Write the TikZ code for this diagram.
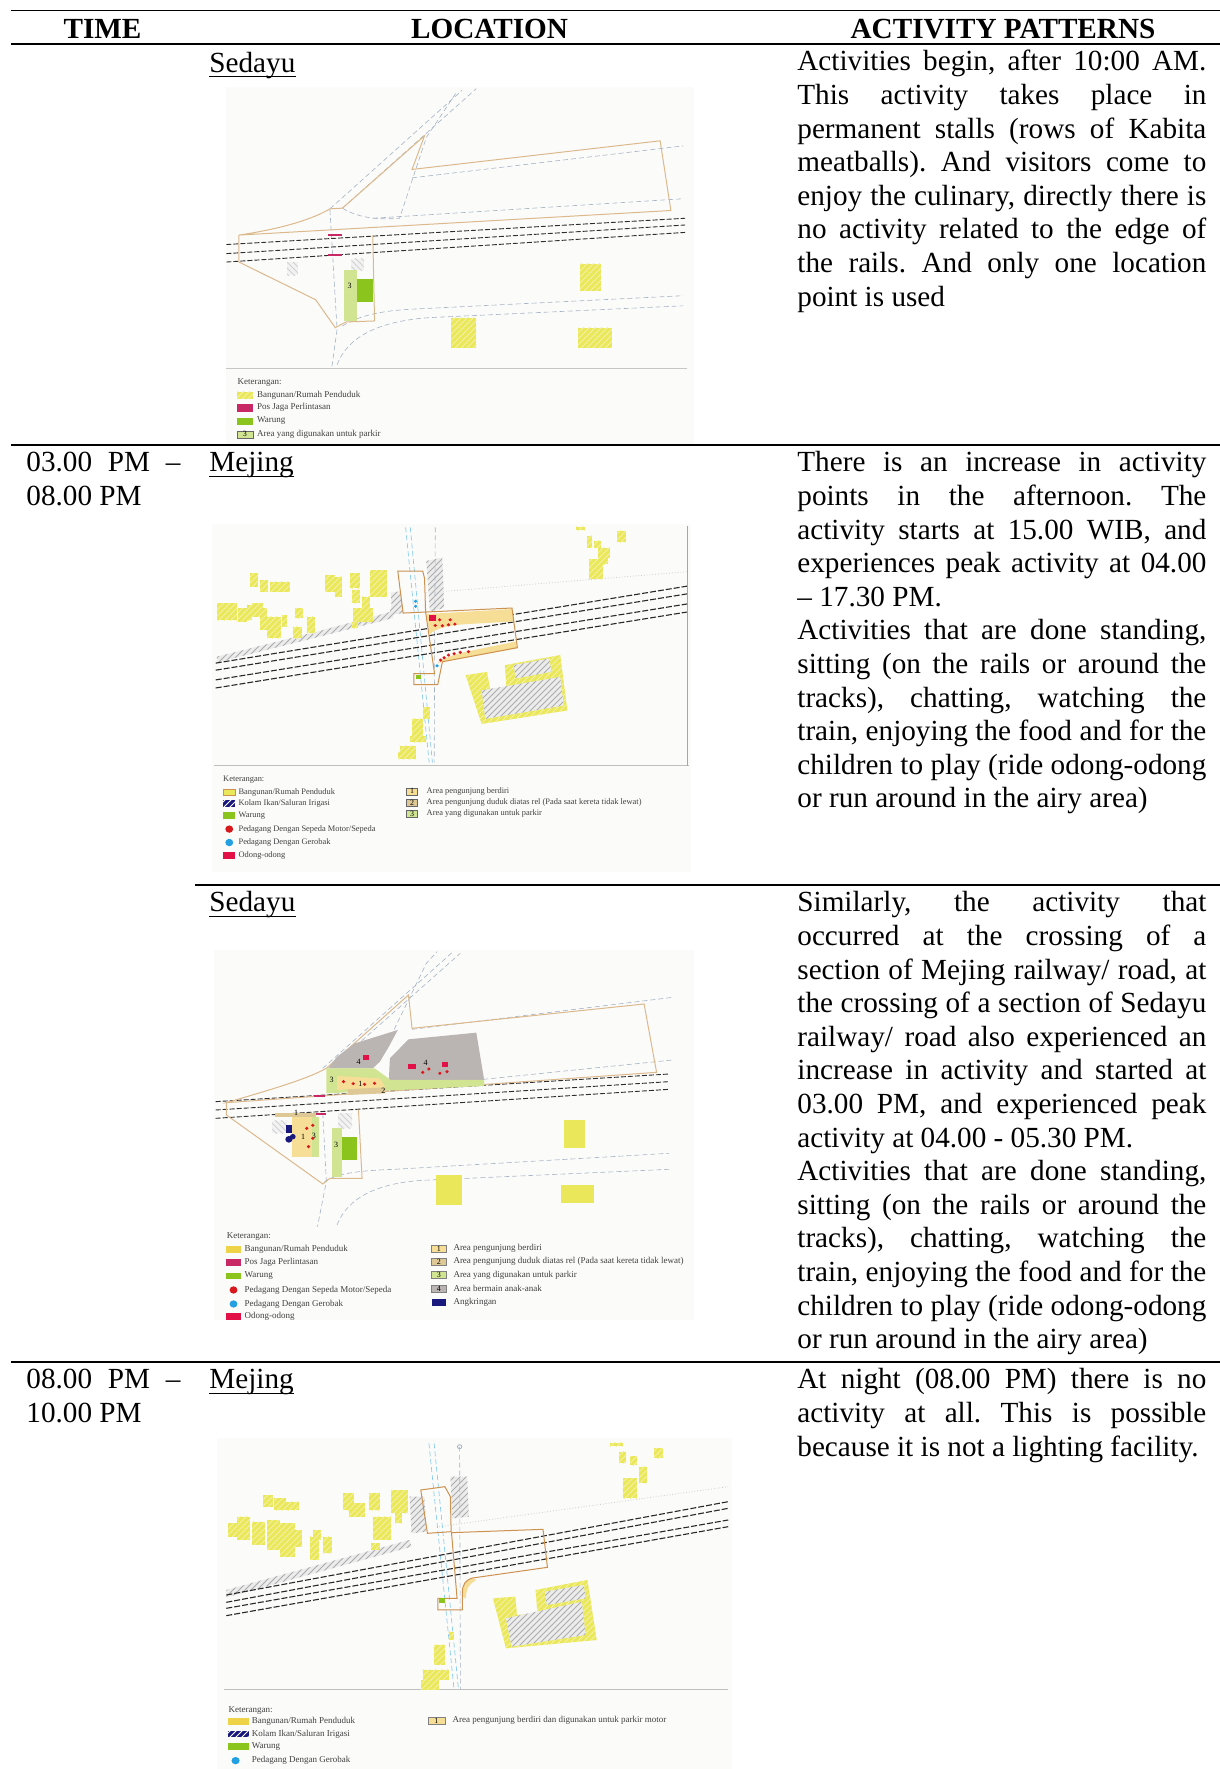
\documentclass[tikz,border=0pt]{standalone}
\usepackage{fontspec}
\setmainfont{Liberation Serif}
\usetikzlibrary{patterns}
\definecolor{Bld}{RGB}{234,232,90}
\definecolor{Brd}{RGB}{205,145,80}
\definecolor{Bl}{RGB}{220,185,140}
\definecolor{Wr}{RGB}{140,196,30}
\definecolor{Pk}{RGB}{208,228,145}
\definecolor{Pl}{RGB}{186,180,178}
\definecolor{Od}{RGB}{226,16,70}
\definecolor{Rd}{RGB}{215,25,30}
\definecolor{Cy}{RGB}{35,160,225}
\definecolor{Nv}{RGB}{25,25,125}
\definecolor{Rl}{RGB}{45,45,45}
\definecolor{Rw}{RGB}{165,180,195}
\definecolor{Ps}{RGB}{200,40,100}
\definecolor{Ar}{RGB}{246,222,150}
\definecolor{Du}{RGB}{222,200,150}
\definecolor{Mb}{RGB}{251,251,250}
\tolerance=10000
\hbadness=10000
\hyphenpenalty=10000
\exhyphenpenalty=10000
\frenchspacing
\setlength{\parindent}{0pt}

\begin{document}
\begin{tikzpicture}[x=0.5pt, y=-0.5pt,
  rule/.style={line width=0.9pt},
  hd/.style={anchor=base, inner sep=0pt, font=\fontsize{14.6pt}{16.8pt}\selectfont\bfseries},
  loc/.style={anchor=base west, inner sep=0pt, font=\fontsize{14.6pt}{16.8pt}\selectfont},
  cell/.style={anchor=north west, inner sep=0pt, text width=204.5pt, align=justify, font=\fontsize{14.6pt}{16.8pt}\selectfont\frenchspacing},
  tcell/.style={cell, text width=77pt},
  road/.style={Rw, dash pattern=on 2.5pt off 1.5pt, line width=0.3pt},
  rail/.style={Rl, dash pattern=on 2.5pt off 1pt, line width=0.45pt},
  bound/.style={Brd, line width=0.5pt},
  bld/.style={fill=Bld, postaction={pattern=north east lines, pattern color=Bld!55!white}},
  wet/.style={fill=gray!15, postaction={pattern=north east lines, pattern color=gray!65}},
  sq/.style={fill=gray!10, postaction={pattern=north west lines, pattern color=gray!35}},
  num/.style={inner sep=0pt, font=\fontsize{4pt}{4pt}\selectfont},
  leg/.style={anchor=west, inner sep=0pt, text=black!75, font=\fontsize{4.5pt}{5pt}\selectfont}]
  \useasboundingbox (0,0) rectangle (1220,1769);

  % Tabla
  \draw[rule] (11,10.5) -- (1220,10.5);
  \draw[rule] (11,44) -- (1220,44);
  \draw[rule] (11,445) -- (1220,445);
  \draw[rule] (195,885) -- (1220,885);
  \draw[rule] (11,1362) -- (1220,1362);
  \node[hd] (hTime) at (102.5,38.5) {TIME};
  \node[hd] (hLoc) at (489.5,38.5) {LOCATION};
  \node[hd] (hAct) at (1003,38.5) {ACTIVITY PATTERNS};

  % Columna de tiempo
  \node[tcell] (t2) at (26,448) {\strut 03.00 PM --\linebreak 08.00 PM};
  \node[tcell] (t4) at (26,1365) {\strut 08.00 PM --\linebreak 10.00 PM};

  % Lugares
  \node[loc] (lSed1) at (209,72) {Sedayu};
  \node[loc] (lMej2) at (209,471.5) {Mejing};
  \node[loc] (lSed3) at (209,911.5) {Sedayu};
  \node[loc] (lMej4) at (209,1388.5) {Mejing};
  \foreach \n in {lSed1,lMej2,lSed3,lMej4}
    \draw[line width=0.6pt] ([yshift=-2.4pt]\n.base west) -- ([yshift=-2.4pt]\n.base east);

  % Actividades
  \node[cell] (a1) at (797,47) {\strut Activities begin, after 10:00 AM.\linebreak This activity takes place in\linebreak permanent stalls (rows of Kabita\linebreak meatballs). And visitors come to\linebreak enjoy the culinary, directly there is\linebreak no activity related to the edge of\linebreak the rails. And only one location\linebreak point is used};
  \node[cell] (a2) at (797,448) {\strut There is an increase in activity\linebreak points in the afternoon. The\linebreak activity starts at 15.00 WIB, and\linebreak experiences peak activity at 04.00\linebreak -- 17.30 PM.\par Activities that are done standing,\linebreak sitting (on the rails or around the\linebreak tracks), chatting, watching the\linebreak train, enjoying the food and for the\linebreak children to play (ride odong-odong\linebreak or run around in the airy area)};
  \node[cell] (a3) at (797,888) {\strut Similarly, the activity that\linebreak occurred at the crossing of a\linebreak section of Mejing railway/ road, at\linebreak the crossing of a section of Sedayu\linebreak railway/ road also experienced an\linebreak increase in activity and started at\linebreak 03.00 PM, and experienced peak\linebreak activity at 04.00 - 05.30 PM.\par Activities that are done standing,\linebreak sitting (on the rails or around the\linebreak tracks), chatting, watching the\linebreak train, enjoying the food and for the\linebreak children to play (ride odong-odong\linebreak or run around in the airy area)};
  \node[cell] (a4) at (797,1365) {\strut At night (08.00 PM) there is no\linebreak activity at all. This is possible\linebreak because it is not a lighting facility.};

  % Mapa 1: Sedayu (manana)
  \begin{scope}[shift={(180,60)}, xscale=0.357, yscale=0.3367]
    \fill[Mb] (130,80) rectangle (1440,1140);
    \draw[gray!45] (130,915) -- (1420,915);
    \draw[road] (420,442) -- (790,90);
    \draw[road] (455,440) -- (830,85);
    \draw[road] (455,440) .. controls (500,470) and (560,475) .. (615,470) -- (690,230) -- (775,95);
    \draw[road] (650,350) -- (1410,255);
    \draw[road] (540,470) -- (1410,412);
    \draw[road] (455,790) .. controls (500,760) and (560,745) .. (650,740) -- (1410,700);
    \draw[road] (440,905) .. controls (470,820) and (560,775) .. (700,765) -- (1410,730);
    \draw[road] (420,445) -- (440,800) -- (425,915);
    \foreach \a/\b in {548/470, 575/490, 600/512}
      \draw[rail] (130,\a) -- (1415,\b);
    \draw[bound, Bl] (165,520) .. controls (260,505) and (360,480) .. (420,442) -- (455,440) -- (685,225) -- (650,325) -- (1345,240) -- (1375,447) -- cycle;
    \draw[bound, Bl] (165,520) -- (165,600) -- (380,712) -- (435,795) -- (465,778) -- (545,775) -- (540,520);
    \fill[sq] (300,600) rectangle (330,640);
    \fill[sq] (480,590) rectangle (515,625);
    \fill[Pk] (460,625) rectangle (495,775);
    \fill[Wr] (495,650) rectangle (540,720);
    \node[num] (m1n3) at (475,672) {3};
    \fill[Ps] (415,517) rectangle (455,524);
    \fill[Ps] (415,576) rectangle (455,583);
    \fill[bld] (1120,605) rectangle (1180,685);
    \fill[bld] (760,765) rectangle (830,855);
    \fill[bld] (1115,795) rectangle (1210,855);
    % leyenda
    \node[leg] (k1) at (160,957) {Keterangan:};
    \fill[bld] (160,985) rectangle (205,1006);
    \fill[Ps] (160,1023) rectangle (205,1044);
    \fill[Wr] (160,1062) rectangle (205,1083);
    \filldraw[fill=Pk, draw=black!60, line width=0.2pt] (160,1101) rectangle (205,1122);
    \node[num] (k1n) at (182,1111) {3};
    \node[leg] (k1a) at (215,995) {Bangunan/Rumah Penduduk};
    \node[leg] (k1b) at (215,1033) {Pos Jaga Perlintasan};
    \node[leg] (k1c) at (215,1072) {Warung};
    \node[leg] (k1d) at (215,1112) {Area yang digunakan untuk parkir};
  \end{scope}

  % Mapa 2: Mejing (tarde)
  \begin{scope}[shift={(180,440)}, xscale=0.357, yscale=0.336]
    \fill[Mb] (90,250) rectangle (1430,1285);
    \draw[gray!50] (95,968) -- (1425,968);
    \draw[gray!70] (1422,255) -- (1422,970);
    \fill[wet] (103,645) -- (392,568) -- (588,512) -- (600,462) -- (612,467) -- (596,530) -- (392,585) -- (103,662) -- cycle;
    \draw[gray!40, densely dotted] (690,455) -- (1420,392);
    \fill[wet] (590,455) -- (618,450) -- (625,515) -- (595,520) -- cycle;
    \fill[wet] (690,360) -- (735,350) -- (740,500) -- (700,510) -- cycle;
    \draw[road, Cy!60] (632,260) -- (698,960);
    \draw[road, Cy!60] (645,260) -- (707,960);
    \draw[road] (715,260) -- (712,960);
    \foreach \a/\b in {664/435, 685/458, 714/488, 738/512}
      \draw[rail, Rl!90!black, dash pattern=on 3pt off 1pt, line width=0.55pt] (100,\a) -- (1420,\b);
    \fill[Ar] (690,518) -- (930,503) -- (935,540) -- (800,548) .. controls (745,552) and (715,562) .. (700,578) -- cycle;
    \fill[Ar] (720,665) .. controls (745,640) and (800,630) .. (940,600) -- (945,620) -- (735,660) -- cycle;
    \draw[bound] (610,390) -- (680,390) -- (685,412) -- (688,512) -- (625,515) -- cycle;
    \draw[bound] (688,512) -- (930,500) -- (945,618) -- (735,660) -- (722,728) -- (655,728) -- (655,695) -- (713,695) -- cycle;
    \fill[Wr] (660,698) rectangle (675,712);
    \fill[Od] (698,522) rectangle (718,538);
    \foreach \p in {(715,552),(735,553),(752,550),(770,548),(727,535),(757,535),(730,655),(740,648),(752,640),(768,636),(785,632),(808,630)}
      \fill[Rd] \p circle [radius=5];
    \foreach \p in {(660,480),(660,495),(720,672)}
      \fill[Cy] \p circle [radius=5];
    \foreach \x/\y/\u/\v in {196/397/219/437, 224/417/247/452, 252/422/308/452, 103/486/131/536, 131/486/159/536, 163/501/187/541, 187/491/201/536, 201/486/233/526, 224/501/243/565, 243/526/284/590, 285/521/300/556, 322/501/345/531, 317/556/341/590, 355/526/378/575, 406/402/434/452, 434/407/453/466, 476/397/504/441, 481/446/504/486, 509/466/532/506, 532/387/579/466, 485/501/541/541, 481/541/499/560, 1110/258/1135/268, 1140/285/1155/320, 1160/300/1180/320, 1185/320/1205/350, 1225/270/1250/305, 1145/355/1185/415, 1170/320/1200/370, 680/795/700/830, 650/830/680/880, 645/880/690/900, 615/910/660/930, 610/930/660/950}
      \fill[bld] (\x,\y) rectangle (\u,\v);
    \fill[bld] (800,700) -- (860,690) -- (870,750) -- (915,745) -- (910,670) -- (1065,640) -- (1085,805) -- (845,845) -- cycle;
    \fill[wet] (935,670) -- (1035,650) -- (1040,690) -- (940,710) -- cycle;
    \fill[wet] (845,745) -- (1065,705) -- (1075,790) -- (855,830) -- cycle;
    % leyenda
    \node[leg, font=\fontsize{4.2pt}{5pt}\selectfont] (k2) at (120,1012) {Keterangan:};
    \filldraw[fill=Bld, draw=Brd, line width=0.2pt] (120,1038) rectangle (155,1058);
    \fill[Nv, postaction={pattern=north east lines, pattern color=white}] (120,1072) rectangle (155,1092);
    \fill[Wr] (120,1107) rectangle (155,1127);
    \fill[Rd] (138,1158) circle [radius=11];
    \fill[Cy] (138,1198) circle [radius=11];
    \fill[Od] (120,1226) rectangle (155,1246);
    \node[leg, font=\fontsize{4.2pt}{5pt}\selectfont] (k2a) at (163,1048) {Bangunan/Rumah Penduduk};
    \node[leg, font=\fontsize{4.2pt}{5pt}\selectfont] (k2b) at (163,1082) {Kolam Ikan/Saluran Irigasi};
    \node[leg, font=\fontsize{4.2pt}{5pt}\selectfont] (k2c) at (163,1117) {Warung};
    \node[leg, font=\fontsize{4.2pt}{5pt}\selectfont] (k2d) at (163,1158) {Pedagang Dengan Sepeda Motor/Sepeda};
    \node[leg, font=\fontsize{4.2pt}{5pt}\selectfont] (k2e) at (163,1198) {Pedagang Dengan Gerobak};
    \node[leg, font=\fontsize{4.2pt}{5pt}\selectfont] (k2f) at (163,1236) {Odong-odong};
    \filldraw[fill=Ar, draw=black!60, line width=0.2pt] (635,1035) rectangle (665,1056);
    \filldraw[fill=Du, draw=black!60, line width=0.2pt] (635,1070) rectangle (665,1091);
    \filldraw[fill=Pk, draw=black!60, line width=0.2pt] (635,1103) rectangle (665,1124);
    \node[num] (k2n1) at (650,1045) {1};
    \node[num] (k2n2) at (650,1080) {2};
    \node[num] (k2n3) at (650,1113) {3};
    \node[leg, font=\fontsize{4.2pt}{5pt}\selectfont] (k2g) at (690,1045) {Area pengunjung berdiri};
    \node[leg, font=\fontsize{4.2pt}{5pt}\selectfont] (k2h) at (690,1080) {Area pengunjung duduk diatas rel (Pada saat kereta tidak lewat)};
    \node[leg, font=\fontsize{4.2pt}{5pt}\selectfont] (k2i) at (690,1113) {Area yang digunakan untuk parkir};
  \end{scope}

  % Mapa 3: Sedayu (tarde)
  \begin{scope}[shift={(180,880)}, xscale=0.357, yscale=0.3333]
    \fill[Mb] (95,210) rectangle (1440,1320);
    \draw[road] (400,565) -- (765,215);
    \draw[road] (425,562) -- (785,220);
    \draw[road] (590,470) -- (690,250) -- (720,215);
    \draw[road] (650,448) -- (1380,352);
    \draw[road] (850,598) -- (1380,540);
    \foreach \a/\b in {665/582, 690/605, 715/628}
      \draw[rail] (100,\a) -- (1370,\b);
    \draw[road] (405,905) .. controls (440,880) and (500,872) .. (600,868) -- (1370,820);
    \draw[road] (440,1035) .. controls (470,950) and (560,905) .. (700,900) -- (1370,868);
    \draw[road] (400,700) -- (410,905) -- (385,1040);
    \draw[bound, Bl] (130,668) .. controls (250,630) and (350,600) .. (410,565) -- (640,345) -- (650,445) -- (1300,372) -- (1335,577) -- cycle;
    \draw[bound, Bl] (130,668) -- (130,705) -- (400,912) -- (420,895) -- (510,895) -- (500,690);
    \fill[Pl] (415,565) -- (440,530) -- (490,490) -- (610,450) -- (585,500) -- (560,545) -- (540,565) -- cycle;
    \fill[Pl] (585,600) -- (588,535) -- (640,478) -- (830,458) -- (852,600) -- cycle;
    \fill[Pk] (410,565) -- (545,565) -- (590,600) -- (852,600) -- (852,618) -- (410,640) -- cycle;
    \fill[Ar] (440,588) -- (560,595) -- (575,622) -- (440,630) -- cycle;
    \fill[Du] (470,628) -- (575,622) -- (575,640) -- (470,645) -- cycle;
    \node[num] (m3n4a) at (500,545) {4};
    \node[num] (m3n4b) at (688,548) {4};
    \node[num] (m3n3a) at (425,600) {3};
    \node[num] (m3n1a) at (505,612) {1};
    \node[num] (m3n2a) at (570,634) {2};
    \fill[Od] (512,525) rectangle (530,540);
    \fill[Od] (640,552) rectangle (660,567);
    \fill[Od] (733,545) rectangle (752,560);
    \fill[Ps] (375,645) rectangle (405,651);
    \fill[Ps] (375,700) rectangle (410,706);
    \fill[Du] (265,700) rectangle (380,712);
    \fill[Ar] (315,712) rectangle (370,830);
    \fill[Pk] (370,712) rectangle (390,830);
    \node[num] (m3n1b) at (345,772) {1};
    \node[num] (m3n3b) at (375,768) {3};
    \node[num] (m3n1c) at (325,700) {1};
    \fill[sq] (258,722) rectangle (300,760);
    \fill[sq] (443,700) rectangle (482,745);
    \fill[Nv] (298,735) rectangle (314,758);
    \fill[Nv] (305,778) circle [radius=10];
    \fill[Nv] (316,770) circle [radius=8];
    \foreach \p in {(458,605),(485,611),(517,613),(545,610),(680,577),(697,567),(728,580),(748,575),(355,745),(372,736),(360,800),(372,775)}
      \fill[Rd] \p circle [radius=5];
    \fill[Pk] (425,745) rectangle (455,890);
    \fill[Wr] (455,770) rectangle (497,840);
    \node[num] (m3n3c) at (437,795) {3};
    \fill[Bld] (1075,720) rectangle (1135,805);
    \fill[Bld] (718,885) rectangle (790,975);
    \fill[Bld] (1068,915) rectangle (1160,970);
    % leyenda
    \node[leg] (k3) at (130,1070) {Keterangan:};
    \fill[Bld!80!orange] (130,1098) rectangle (170,1118);
    \fill[Ps] (130,1138) rectangle (170,1158);
    \fill[Wr] (130,1178) rectangle (170,1198);
    \fill[Rd] (150,1230) circle [radius=11];
    \fill[Cy] (150,1272) circle [radius=11];
    \fill[Od] (130,1300) rectangle (170,1320);
    \node[leg] (k3a) at (180,1108) {Bangunan/Rumah Penduduk};
    \node[leg] (k3b) at (180,1148) {Pos Jaga Perlintasan};
    \node[leg] (k3c) at (180,1188) {Warung};
    \node[leg] (k3d) at (180,1230) {Pedagang Dengan Sepeda Motor/Sepeda};
    \node[leg] (k3e) at (180,1272) {Pedagang Dengan Gerobak};
    \node[leg] (k3f) at (180,1310) {Odong-odong};
    \filldraw[fill=Ar, draw=black!50, line width=0.2pt] (705,1096) rectangle (745,1116);
    \filldraw[fill=Du, draw=black!50, line width=0.2pt] (705,1135) rectangle (745,1155);
    \filldraw[fill=Pk, draw=black!50, line width=0.2pt] (705,1175) rectangle (745,1195);
    \filldraw[fill=Pl, draw=black!50, line width=0.2pt] (705,1216) rectangle (745,1236);
    \fill[Nv] (705,1258) rectangle (745,1278);
    \node[num] (k3n1) at (725,1106) {1};
    \node[num] (k3n2) at (725,1145) {2};
    \node[num] (k3n3) at (725,1185) {3};
    \node[num] (k3n4) at (725,1226) {4};
    \node[leg] (k3g) at (765,1106) {Area pengunjung berdiri};
    \node[leg] (k3h) at (765,1145) {Area pengunjung duduk diatas rel (Pada saat kereta tidak lewat)};
    \node[leg] (k3i) at (765,1185) {Area yang digunakan untuk parkir};
    \node[leg] (k3j) at (765,1226) {Area bermain anak-anak};
    \node[leg] (k3k) at (765,1268) {Angkringan};
  \end{scope}

  % Mapa 4: Mejing (noche)
  \begin{scope}[shift={(180,1350)}, xscale=0.3704, yscale=0.3333]
    \fill[Mb] (100,265) rectangle (1490,1257);
    \draw[gray!50] (120,1018) -- (1480,1018);
    \fill[wet] (125,720) -- (620,570) -- (625,590) -- (125,742) -- cycle;
    \draw[gray!40, densely dotted] (700,530) -- (1480,410);
    \fill[wet] (620,440) -- (660,440) -- (665,545) -- (625,550) -- cycle;
    \fill[wet] (730,380) -- (775,380) -- (780,500) -- (735,505) -- cycle;
    \draw[road, Cy!60] (672,280) -- (740,1020);
    \draw[road, Cy!60] (686,280) -- (752,1020);
    \draw[road] (755,290) -- (757,1020);
    \draw[Rw] (755,290) circle [radius=6];
    \foreach \a/\b in {735/455, 757/475, 775/510, 797/530}
      \draw[rail, Rl!90!black, dash pattern=on 3pt off 1pt, line width=0.55pt] (125,\a) -- (1480,\b);
    \draw[bound] (650,420) -- (715,410) -- (730,440) -- (732,545) -- (668,550) -- cycle;
    \fill[Ar] (762,740) .. controls (762,705) and (772,690) .. (790,684) -- (800,690) .. controls (782,700) and (772,715) .. (772,745) -- cycle;
    \draw[bound] (733,548) -- (980,538) -- (992,652) -- (790,684) .. controls (770,690) and (762,705) .. (762,730) -- (762,780) -- (696,780) -- (696,745) -- (748,745) -- cycle;
    \fill[Wr] (700,745) rectangle (715,760);
    \foreach \x/\y/\u/\v in {225/435/250/470, 255/445/285/480, 285/455/320/480, 130/520/155/560, 155/500/190/570, 195/515/230/585, 235/510/270/600, 270/520/310/620, 300/540/330/590, 350/560/375/630, 360/540/380/570, 385/560/410/610, 440/430/470/480, 455/460/500/500, 510/430/540/480, 520/500/570/570, 545/510/570/560, 570/420/615/490, 580/490/600/520, 515/580/540/600, 1160/278/1195/288, 1185/305/1205/340, 1215/318/1235/345, 1240/350/1260/400, 1280/295/1305/325, 1195/385/1235/445, 725/845/740/870, 685/885/715/945, 655/960/725/990, 650/990/700/1020}
      \fill[bld] (\x,\y) rectangle (\u,\v);
    \fill[bld] (845,745) -- (905,740) -- (910,795) -- (965,790) -- (960,720) -- (1100,690) -- (1125,870) -- (880,895) -- cycle;
    \fill[wet] (985,725) -- (1090,705) -- (1095,745) -- (990,765) -- cycle;
    \fill[wet] (880,805) -- (1085,755) -- (1095,855) -- (895,890) -- cycle;
    % leyenda
    \node[leg] (k4) at (130,1082) {Keterangan:};
    \fill[Bld!80!orange] (130,1105) rectangle (185,1125);
    \fill[Nv, postaction={pattern=north east lines, pattern color=white}] (130,1142) rectangle (185,1162);
    \fill[Wr] (130,1180) rectangle (185,1200);
    \fill[Cy] (150,1232) circle [radius=11];
    \node[leg] (k4a) at (193,1115) {Bangunan/Rumah Penduduk};
    \node[leg] (k4b) at (193,1152) {Kolam Ikan/Saluran Irigasi};
    \node[leg] (k4c) at (193,1190) {Warung};
    \node[leg] (k4d) at (193,1230) {Pedagang Dengan Gerobak};
    \filldraw[fill=Ar, draw=black!50, line width=0.2pt] (670,1102) rectangle (715,1124);
    \node[num] (k4n1) at (692,1113) {1};
    \node[leg] (k4e) at (735,1112) {Area pengunjung berdiri dan digunakan untuk parkir motor};
  \end{scope}
\end{tikzpicture}
\end{document}
